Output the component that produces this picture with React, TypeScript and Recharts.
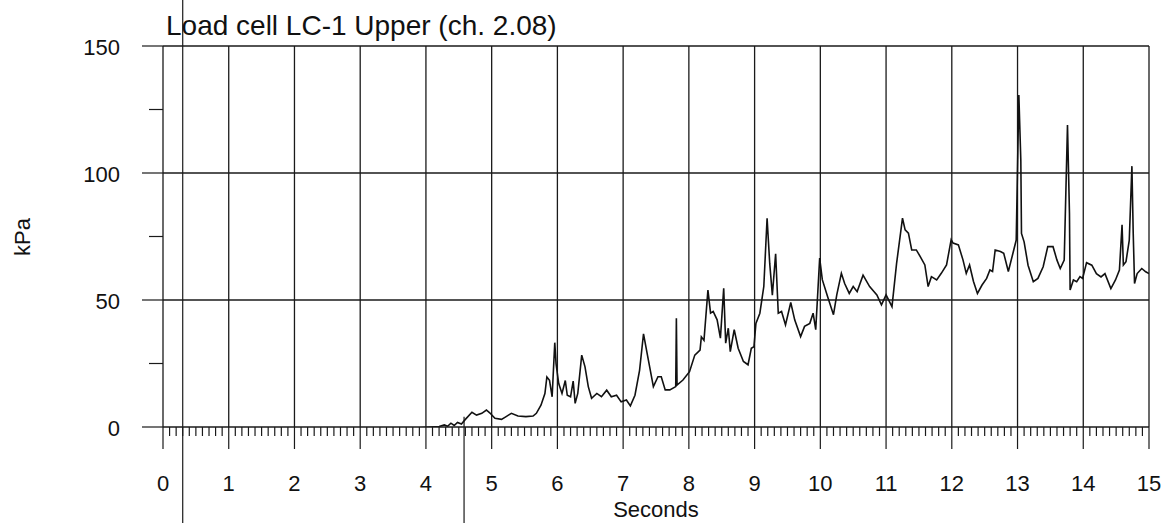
import React from 'react';
import { LineChart, Line, XAxis, YAxis, ReferenceLine } from 'recharts';

const FONT = '"Liberation Sans", Arial, sans-serif';

// trace: time in seconds, pressure in kPa
const seconds = [
  0.0, 0.3, 0.7, 1.1, 1.5, 2.0, 2.5, 3.0, 3.5, 3.9, 4.2, 4.28, 4.33, 4.38, 4.43, 4.48, 4.54, 4.6,
  4.7, 4.77, 4.85, 4.92, 4.97, 5.05, 5.15, 5.22, 5.3, 5.4, 5.52, 5.63, 5.68, 5.75, 5.81, 5.84,
  5.88, 5.92, 5.96, 5.98, 6.02, 6.07, 6.12, 6.15, 6.2, 6.24, 6.27, 6.31, 6.37, 6.42, 6.47, 6.52,
  6.6, 6.67, 6.75, 6.82, 6.9, 6.97, 7.05, 7.11, 7.18, 7.25, 7.31, 7.37, 7.46, 7.53, 7.58, 7.64,
  7.71, 7.8, 7.81, 7.82, 7.91, 8.01, 8.09, 8.17, 8.19, 8.23, 8.29, 8.33, 8.37, 8.43, 8.48, 8.53,
  8.56, 8.6, 8.63, 8.69, 8.75, 8.83, 8.9, 8.95, 8.99, 9.02, 9.08, 9.14, 9.19, 9.23, 9.27, 9.32,
  9.36, 9.41, 9.47, 9.55, 9.61, 9.7, 9.76, 9.84, 9.89, 9.93, 9.99, 10.03, 10.11, 10.2, 10.25,
  10.32, 10.37, 10.44, 10.5, 10.56, 10.65, 10.75, 10.86, 10.93, 11.0, 11.09, 11.16, 11.25, 11.29,
  11.34, 11.39, 11.46, 11.52, 11.59, 11.64, 11.69, 11.77, 11.84, 11.92, 11.99, 12.02, 12.1, 12.17,
  12.22, 12.27, 12.33, 12.39, 12.46, 12.53, 12.58, 12.62, 12.66, 12.74, 12.79, 12.86, 12.93,
  12.98, 13.02, 13.05, 13.06, 13.1, 13.16, 13.24, 13.31, 13.39, 13.46, 13.54, 13.6, 13.65, 13.71,
  13.76, 13.79, 13.8, 13.85, 13.9, 13.95, 13.99, 14.05, 14.13, 14.2, 14.27, 14.33, 14.42, 14.49,
  14.55, 14.59, 14.61, 14.65, 14.7, 14.74, 14.76, 14.78, 14.82, 14.89, 14.95, 15.0,
];
const kpa = [
  -0.5, -0.8, -0.4, -0.9, -0.6, -0.8, -0.5, -1.0, -0.6, -0.3, 0.2, 0.8, 0.3, 1.5, 0.6, 1.8, 1.2, 3.0,
  5.8, 4.7, 5.4, 6.7, 5.6, 3.4, 3.0, 4.1, 5.4, 4.3, 4.1, 4.3, 5.4, 8.6, 13.2, 19.7,
  18.4, 11.9, 33.2, 24.8, 17.1, 13.2, 18.3, 12.5, 11.9, 18.1, 9.3, 13.2, 28.3, 23.7, 15.9, 11.3,
  13.2, 11.9, 14.5, 11.9, 12.5, 9.9, 10.6, 8.3, 12.5, 22.3, 36.7, 28.3, 15.9, 19.8, 19.8, 14.6,
  14.6, 15.9, 42.8, 16.5, 18.5, 21.8, 28.3, 30.3, 35.5, 34.1, 53.9, 44.8, 45.5, 42.2, 35.0, 54.6,
  33.0, 38.9, 29.7, 38.3, 31.0, 25.8, 24.5, 31.0, 31.6, 40.8, 44.8, 55.3, 82.2, 64.4, 51.9, 68.2,
  44.8, 45.5, 40.2, 49.0, 42.2, 35.6, 39.6, 40.8, 44.8, 38.3, 66.5, 58.0, 51.4, 44.2, 52.0,
  60.5, 56.5, 52.6, 55.3, 53.3, 59.8, 55.3, 52.0, 48.1, 52.0, 47.4, 64.4, 82.2, 77.6,
  76.3, 69.7, 69.7, 67.1, 63.8, 55.3, 59.2, 57.9, 60.5, 63.8, 73.7, 72.4, 71.7, 65.8,
  60.5, 63.8, 57.3, 52.6, 55.9, 58.5, 61.8, 61.2, 69.7, 69.1, 68.4, 61.2, 68.4,
  73.6, 130.7, 105.0, 76.2, 72.9, 63.7, 57.2, 58.5, 63.1, 71.0, 71.0, 65.7, 62.4, 65.7,
  118.9, 84.1, 53.9, 57.9, 57.2, 59.2, 58.5, 64.7, 63.7, 60.4, 59.1, 60.4, 54.5, 57.9,
  61.8, 79.6, 63.8, 65.1, 73.6, 102.7, 76.2, 56.5, 60.4, 62.4, 61.1, 60.4,
];

const secondTicks = [0, 1, 2, 3, 4, 5, 6, 7, 8, 9, 10, 11, 12, 13, 14, 15];
const kpaTicks = [0, 25, 50, 75, 100, 125, 150];
const kpaLabels = [0, 50, 100, 150];

const data = seconds.map((t, i) => ({ t, kpa: kpa[i] }));
// minor ticks every 0.1 s
const xTicks = Array.from({ length: 151 }, (_, i) => i / 10);

const INK = '#1a1a1a';
const isWhole = (v: number) => Math.abs(v - Math.round(v)) < 1e-6;

const XTick = (props: any) => {
  const { x, y, payload } = props;
  const major = isWhole(payload.value);
  return (
    <g>
      <line x1={x} x2={x} y1={y} y2={y + (major ? 22 : 9)} stroke={INK} strokeWidth={1.2} />
      {major && (
        <text x={x} y={y + 64} textAnchor="middle" fontSize={22} fontFamily={FONT} fill="#111">
          {Math.round(payload.value)}
        </text>
      )}
    </g>
  );
};

const YTick = (props: any) => {
  const { x, y, payload } = props;
  const major = kpaLabels.includes(payload.value);
  return (
    <g>
      <line x1={x - (major ? 21 : 14)} x2={x} y1={y} y2={y} stroke={INK} strokeWidth={1.2} />
      {major && (
        <text x={x - 43} y={y + 9} textAnchor="end" fontSize={22} fontFamily={FONT} fill="#111">
          {payload.value}
        </text>
      )}
    </g>
  );
};

const App: React.FC = () => {
  return (
    <div style={{ position: 'absolute', left: 0, top: 0, width: 1171, height: 523, background: '#fff' }}>
      <LineChart width={1171} height={523} data={data} margin={{ top: 46, right: 22, bottom: 36, left: 103 }}>
        <XAxis
          type="number"
          dataKey="t"
          domain={[0, 15]}
          ticks={xTicks}
          interval={0}
          tickSize={0}
          tickMargin={0}
          tickLine={false}
          tick={<XTick />}
          height={60}
          axisLine={{ stroke: INK, strokeWidth: 1.3 }}
          allowDataOverflow
        />
        <YAxis
          type="number"
          domain={[0, 150]}
          ticks={kpaTicks}
          interval={0}
          tickSize={0}
          tickMargin={0}
          tickLine={false}
          tick={<YTick />}
          width={60}
          axisLine={{ stroke: INK, strokeWidth: 1.3 }}
          allowDataOverflow
        />
        {secondTicks.slice(1).map((s) => (
          <ReferenceLine key={`v${s}`} x={s} stroke={INK} strokeWidth={1.3} />
        ))}
        {kpaLabels.slice(1).map((k) => (
          <ReferenceLine key={`h${k}`} y={k} stroke={INK} strokeWidth={1.3} />
        ))}
        {/* stray vertical marks in the scanned original */}
        <ReferenceLine
          segment={[{ x: 0.3, y: -41 }, { x: 0.3, y: 181 }]}
          stroke={INK}
          strokeWidth={1.2}
          ifOverflow="visible"
        />
        <ReferenceLine
          segment={[{ x: 4.58, y: -41 }, { x: 4.58, y: 4 }]}
          stroke={INK}
          strokeWidth={1.2}
          ifOverflow="visible"
        />
        <Line
          type="linear"
          dataKey="kpa"
          stroke="#111"
          strokeWidth={1.6}
          dot={false}
          isAnimationActive={false}
        />
      </LineChart>
      <svg
        width={1171}
        height={523}
        style={{ position: 'absolute', left: 0, top: 0, pointerEvents: 'none' }}
      >
        <text x={166} y={35} fontSize={28} fontFamily={FONT} fill="#111">
          Load cell LC-1 Upper (ch. 2.08)
        </text>
        <text x={656} y={517} textAnchor="middle" fontSize={22} fontFamily={FONT} fill="#111">
          Seconds
        </text>
        <text
          x={30}
          y={237}
          textAnchor="middle"
          fontSize={22}
          fontFamily={FONT}
          fill="#111"
          transform="rotate(-90 30 237)"
        >
          kPa
        </text>
      </svg>
    </div>
  );
};

export default App;
